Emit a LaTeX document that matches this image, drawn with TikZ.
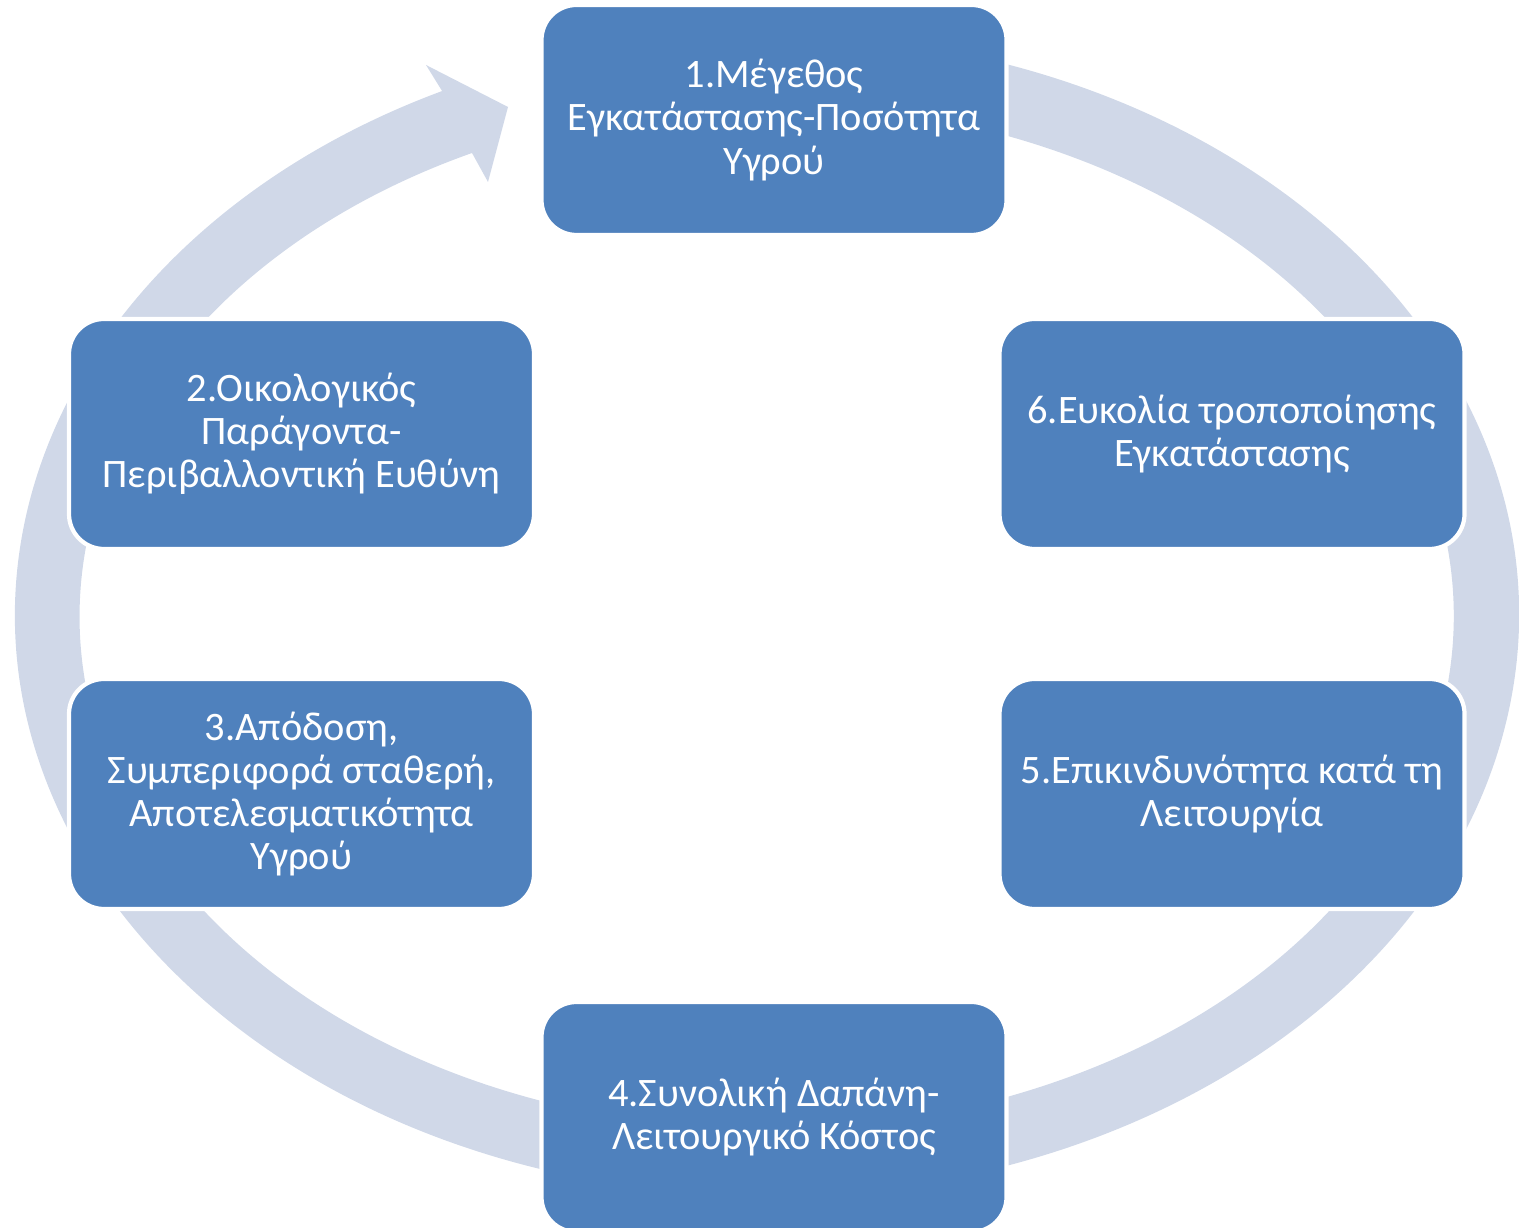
\documentclass[tikz,border=0pt]{standalone}
\usepackage{fontspec}
\setmainfont{Carlito}
\usetikzlibrary{calc}

\definecolor{boxblue}{HTML}{4F81BD}
\definecolor{ringgrey}{HTML}{D0D8E8}

\begin{document}
\begin{tikzpicture}[
    stepbox/.style={draw=white, line width=1.2pt, fill=boxblue, rounded corners=0.35cm,
      minimum width=4.65cm, minimum height=2.3cm, align=center, text=white,
      font={\fontsize{11.5}{12.3}\selectfont}}, % the six blue boxes
  ]
  \useasboundingbox (0,0) rectangle (15.19,12.27);

  % the circular arrow behind the boxes
  \coordinate (c) at (7.67,6.12);
  \fill[ringgrey] ($(c)+(80:7.52 and 5.81)$)
    arc[start angle=80, end angle=-244.4, x radius=7.52, y radius=5.81]
    -- (4.26,11.62) -- (5.08,11.20) -- (4.88,10.45) -- (4.72,10.74)
    arc[start angle=-244.6, end angle=80, x radius=6.87, y radius=5.13] -- cycle;

  \node[stepbox] (b1) at (7.74,11.07) {1.Μέγεθος\\Εγκατάστασης-Ποσότητα\\Υγρού};
  \node[stepbox] (b2) at (3.015,7.93) {2.Οικολογικός\\Παράγοντα-\\Περιβαλλοντική Ευθύνη};
  \node[stepbox] (b3) at (3.015,4.33) {3.Απόδοση,\\Συμπεριφορά σταθερή,\\Αποτελεσματικότητα\\Υγρού};
  \node[stepbox] (b4) at (7.74,1.10) {4.Συνολική Δαπάνη-\\Λειτουργικό Κόστος};
  \node[stepbox] (b5) at (12.32,4.33) {5.Επικινδυνότητα κατά τη\\Λειτουργία};
  \node[stepbox] (b6) at (12.32,7.93) {6.Ευκολία τροποποίησης\\Εγκατάστασης};

\end{tikzpicture}
\end{document}
